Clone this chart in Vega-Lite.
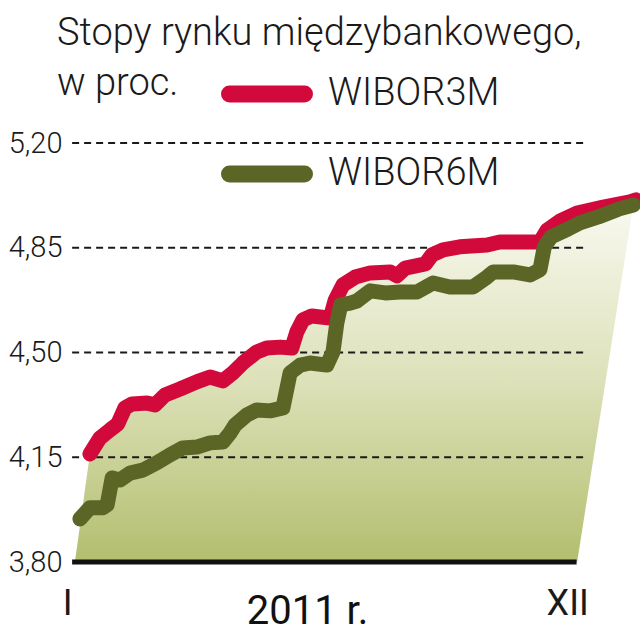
{
  "$schema": "https://vega.github.io/schema/vega-lite/v6.json",
  "autosize": "none",
  "width": 574,
  "height": 419,
  "padding": {"left": 66, "top": 143, "right": 0, "bottom": 78},
  "background": "white",
  "config": {"view": {"stroke": null}, "font": "Roboto"},
  "title": {
    "text": ["Stopy rynku międzybankowego,", "w proc."],
    "anchor": "start",
    "orient": "top",
    "baseline": "top",
    "fontSize": 38,
    "fontWeight": 300,
    "font": "Roboto",
    "color": "#1a1a1a",
    "lineHeight": 50,
    "dx": -9,
    "dy": 55,
    "offset": 0,
    "frame": "group"
  },
  "datasets": {
    "wibor": [
      {"t": 1.8, "stawka": 4.161, "seria": "WIBOR3M"},
      {"t": 3.6, "stawka": 4.214, "seria": "WIBOR3M"},
      {"t": 5.4, "stawka": 4.241, "seria": "WIBOR3M"},
      {"t": 6.8, "stawka": 4.261, "seria": "WIBOR3M"},
      {"t": 8.1, "stawka": 4.315, "seria": "WIBOR3M"},
      {"t": 9.4, "stawka": 4.328, "seria": "WIBOR3M"},
      {"t": 12.1, "stawka": 4.331, "seria": "WIBOR3M"},
      {"t": 13.5, "stawka": 4.325, "seria": "WIBOR3M"},
      {"t": 15.3, "stawka": 4.358, "seria": "WIBOR3M"},
      {"t": 18.0, "stawka": 4.378, "seria": "WIBOR3M"},
      {"t": 21.0, "stawka": 4.402, "seria": "WIBOR3M"},
      {"t": 23.4, "stawka": 4.418, "seria": "WIBOR3M"},
      {"t": 25.7, "stawka": 4.405, "seria": "WIBOR3M"},
      {"t": 27.5, "stawka": 4.432, "seria": "WIBOR3M"},
      {"t": 29.3, "stawka": 4.465, "seria": "WIBOR3M"},
      {"t": 31.8, "stawka": 4.502, "seria": "WIBOR3M"},
      {"t": 33.6, "stawka": 4.515, "seria": "WIBOR3M"},
      {"t": 36.0, "stawka": 4.518, "seria": "WIBOR3M"},
      {"t": 38.1, "stawka": 4.515, "seria": "WIBOR3M"},
      {"t": 39.0, "stawka": 4.569, "seria": "WIBOR3M"},
      {"t": 40.1, "stawka": 4.609, "seria": "WIBOR3M"},
      {"t": 41.7, "stawka": 4.622, "seria": "WIBOR3M"},
      {"t": 45.0, "stawka": 4.615, "seria": "WIBOR3M"},
      {"t": 45.9, "stawka": 4.675, "seria": "WIBOR3M"},
      {"t": 47.3, "stawka": 4.726, "seria": "WIBOR3M"},
      {"t": 49.5, "stawka": 4.752, "seria": "WIBOR3M"},
      {"t": 52.2, "stawka": 4.766, "seria": "WIBOR3M"},
      {"t": 55.8, "stawka": 4.769, "seria": "WIBOR3M"},
      {"t": 57.0, "stawka": 4.756, "seria": "WIBOR3M"},
      {"t": 58.5, "stawka": 4.782, "seria": "WIBOR3M"},
      {"t": 62.1, "stawka": 4.796, "seria": "WIBOR3M"},
      {"t": 63.3, "stawka": 4.826, "seria": "WIBOR3M"},
      {"t": 65.3, "stawka": 4.843, "seria": "WIBOR3M"},
      {"t": 68.3, "stawka": 4.853, "seria": "WIBOR3M"},
      {"t": 73.2, "stawka": 4.859, "seria": "WIBOR3M"},
      {"t": 75.5, "stawka": 4.869, "seria": "WIBOR3M"},
      {"t": 82.7, "stawka": 4.869, "seria": "WIBOR3M"},
      {"t": 84.0, "stawka": 4.909, "seria": "WIBOR3M"},
      {"t": 86.3, "stawka": 4.939, "seria": "WIBOR3M"},
      {"t": 89.4, "stawka": 4.966, "seria": "WIBOR3M"},
      {"t": 94.1, "stawka": 4.986, "seria": "WIBOR3M"},
      {"t": 98.9, "stawka": 5.003, "seria": "WIBOR3M"},
      {"t": 100.0, "stawka": 5.010, "seria": "WIBOR3M"},
      {"t": 0.0, "stawka": 3.944, "seria": "WIBOR6M"},
      {"t": 1.8, "stawka": 3.981, "seria": "WIBOR6M"},
      {"t": 4.1, "stawka": 3.981, "seria": "WIBOR6M"},
      {"t": 4.9, "stawka": 3.991, "seria": "WIBOR6M"},
      {"t": 5.8, "stawka": 4.081, "seria": "WIBOR6M"},
      {"t": 7.2, "stawka": 4.074, "seria": "WIBOR6M"},
      {"t": 9.0, "stawka": 4.097, "seria": "WIBOR6M"},
      {"t": 11.3, "stawka": 4.107, "seria": "WIBOR6M"},
      {"t": 13.8, "stawka": 4.131, "seria": "WIBOR6M"},
      {"t": 16.2, "stawka": 4.158, "seria": "WIBOR6M"},
      {"t": 18.5, "stawka": 4.181, "seria": "WIBOR6M"},
      {"t": 21.0, "stawka": 4.184, "seria": "WIBOR6M"},
      {"t": 23.4, "stawka": 4.198, "seria": "WIBOR6M"},
      {"t": 25.7, "stawka": 4.201, "seria": "WIBOR6M"},
      {"t": 27.0, "stawka": 4.231, "seria": "WIBOR6M"},
      {"t": 27.9, "stawka": 4.258, "seria": "WIBOR6M"},
      {"t": 30.0, "stawka": 4.291, "seria": "WIBOR6M"},
      {"t": 31.8, "stawka": 4.308, "seria": "WIBOR6M"},
      {"t": 34.2, "stawka": 4.305, "seria": "WIBOR6M"},
      {"t": 36.5, "stawka": 4.315, "seria": "WIBOR6M"},
      {"t": 37.8, "stawka": 4.432, "seria": "WIBOR6M"},
      {"t": 39.6, "stawka": 4.458, "seria": "WIBOR6M"},
      {"t": 41.4, "stawka": 4.465, "seria": "WIBOR6M"},
      {"t": 44.4, "stawka": 4.458, "seria": "WIBOR6M"},
      {"t": 45.5, "stawka": 4.502, "seria": "WIBOR6M"},
      {"t": 46.2, "stawka": 4.599, "seria": "WIBOR6M"},
      {"t": 46.9, "stawka": 4.659, "seria": "WIBOR6M"},
      {"t": 48.6, "stawka": 4.665, "seria": "WIBOR6M"},
      {"t": 49.8, "stawka": 4.672, "seria": "WIBOR6M"},
      {"t": 52.2, "stawka": 4.706, "seria": "WIBOR6M"},
      {"t": 54.9, "stawka": 4.699, "seria": "WIBOR6M"},
      {"t": 57.6, "stawka": 4.702, "seria": "WIBOR6M"},
      {"t": 60.6, "stawka": 4.702, "seria": "WIBOR6M"},
      {"t": 63.5, "stawka": 4.732, "seria": "WIBOR6M"},
      {"t": 66.5, "stawka": 4.719, "seria": "WIBOR6M"},
      {"t": 70.7, "stawka": 4.719, "seria": "WIBOR6M"},
      {"t": 73.2, "stawka": 4.752, "seria": "WIBOR6M"},
      {"t": 74.3, "stawka": 4.769, "seria": "WIBOR6M"},
      {"t": 77.9, "stawka": 4.769, "seria": "WIBOR6M"},
      {"t": 80.9, "stawka": 4.759, "seria": "WIBOR6M"},
      {"t": 82.7, "stawka": 4.776, "seria": "WIBOR6M"},
      {"t": 83.5, "stawka": 4.853, "seria": "WIBOR6M"},
      {"t": 84.7, "stawka": 4.886, "seria": "WIBOR6M"},
      {"t": 87.8, "stawka": 4.913, "seria": "WIBOR6M"},
      {"t": 89.9, "stawka": 4.933, "seria": "WIBOR6M"},
      {"t": 93.2, "stawka": 4.953, "seria": "WIBOR6M"},
      {"t": 96.8, "stawka": 4.979, "seria": "WIBOR6M"},
      {"t": 99.5, "stawka": 4.993, "seria": "WIBOR6M"}
    ],
    "obszar": [
      {"t": -0.9, "gora": 3.8, "dol": 3.8},
      {"t": 1.8, "gora": 4.161, "dol": 3.8},
      {"t": 3.6, "gora": 4.214, "dol": 3.8},
      {"t": 5.4, "gora": 4.241, "dol": 3.8},
      {"t": 6.8, "gora": 4.261, "dol": 3.8},
      {"t": 8.1, "gora": 4.315, "dol": 3.8},
      {"t": 9.4, "gora": 4.328, "dol": 3.8},
      {"t": 12.1, "gora": 4.331, "dol": 3.8},
      {"t": 13.5, "gora": 4.325, "dol": 3.8},
      {"t": 15.3, "gora": 4.358, "dol": 3.8},
      {"t": 18.0, "gora": 4.378, "dol": 3.8},
      {"t": 21.0, "gora": 4.402, "dol": 3.8},
      {"t": 23.4, "gora": 4.418, "dol": 3.8},
      {"t": 25.7, "gora": 4.405, "dol": 3.8},
      {"t": 27.5, "gora": 4.432, "dol": 3.8},
      {"t": 29.3, "gora": 4.465, "dol": 3.8},
      {"t": 31.8, "gora": 4.502, "dol": 3.8},
      {"t": 33.6, "gora": 4.515, "dol": 3.8},
      {"t": 36.0, "gora": 4.518, "dol": 3.8},
      {"t": 38.1, "gora": 4.515, "dol": 3.8},
      {"t": 39.0, "gora": 4.569, "dol": 3.8},
      {"t": 40.1, "gora": 4.609, "dol": 3.8},
      {"t": 41.7, "gora": 4.622, "dol": 3.8},
      {"t": 45.0, "gora": 4.615, "dol": 3.8},
      {"t": 45.9, "gora": 4.675, "dol": 3.8},
      {"t": 47.3, "gora": 4.726, "dol": 3.8},
      {"t": 49.5, "gora": 4.752, "dol": 3.8},
      {"t": 52.2, "gora": 4.766, "dol": 3.8},
      {"t": 55.8, "gora": 4.769, "dol": 3.8},
      {"t": 57.0, "gora": 4.756, "dol": 3.8},
      {"t": 58.5, "gora": 4.782, "dol": 3.8},
      {"t": 62.1, "gora": 4.796, "dol": 3.8},
      {"t": 63.3, "gora": 4.826, "dol": 3.8},
      {"t": 65.3, "gora": 4.843, "dol": 3.8},
      {"t": 68.3, "gora": 4.853, "dol": 3.8},
      {"t": 73.2, "gora": 4.859, "dol": 3.8},
      {"t": 75.5, "gora": 4.869, "dol": 3.8},
      {"t": 82.7, "gora": 4.869, "dol": 3.8},
      {"t": 84.0, "gora": 4.909, "dol": 3.8},
      {"t": 86.3, "gora": 4.939, "dol": 3.8},
      {"t": 89.4, "gora": 4.966, "dol": 3.8},
      {"t": 99.6, "gora": 5.005, "dol": 5.005}
    ],
    "siatka": [
      {"poziom": 4.15},
      {"poziom": 4.5},
      {"poziom": 4.85},
      {"poziom": 5.2}
    ]
  },
  "layer": [
    {
      "data": {"name": "obszar"},
      "mark": {
        "type": "area",
        "color": {
          "gradient": "linear",
          "x1": 0, "y1": 0, "x2": 0, "y2": 1,
          "stops": [
            {"offset": 0, "color": "#f9f9f0"},
            {"offset": 0.5, "color": "#dde1b9"},
            {"offset": 1, "color": "#b3be6e"}
          ]
        }
      },
      "encoding": {
        "x": {
          "field": "t", "type": "quantitative",
          "scale": {"domain": [-2.5, 100.7], "nice": false, "zero": false},
          "axis": {
            "values": [-2.3, 87.6],
            "labelExpr": "datum.value < 0 ? 'I' : 'XII'",
            "labelFontSize": 36,
            "labelFont": "Roboto",
            "labelFontWeight": 400,
            "labelColor": "#1a1a1a",
            "labelFlush": false,
            "labelOverlap": false,
            "labelBound": false,
            "labelPadding": 24,
            "ticks": false,
            "tickSize": 0,
            "domain": false,
            "grid": false,
            "title": "2011 r.",
            "titleFontSize": 40,
            "titleFontWeight": 400,
            "titleFont": "Roboto",
            "titleColor": "#111111",
            "titleX": 241,
            "titleY": 61,
            "titleAlign": "center",
            "titleBaseline": "alphabetic"
          }
        },
        "y": {
          "field": "gora", "type": "quantitative",
          "scale": {"domain": [3.8, 5.2], "nice": false, "zero": false},
          "axis": {
            "values": [3.8, 4.15, 4.5, 4.85, 5.2],
            "labelExpr": "replace(format(datum.value, '.2f'), '.', ',')",
            "labelFontSize": 29,
            "labelFont": "Roboto",
            "labelFontWeight": 300,
            "labelColor": "#1a1a1a",
            "labelPadding": 4,
            "labelBaseline": "middle",
            "labelFlush": false,
            "labelOverlap": false,
            "ticks": false,
            "tickSize": 0,
            "domain": false,
            "grid": false,
            "title": null
          }
        },
        "y2": {"field": "dol"}
      }
    },
    {
      "data": {"name": "siatka"},
      "mark": {"type": "rule", "color": "#1a1a1a", "strokeWidth": 2, "strokeDash": [7, 5]},
      "encoding": {
        "y": {"field": "poziom", "type": "quantitative"},
        "x": {"datum": -1.4},
        "x2": {"datum": 90.6}
      }
    },
    {
      "data": {"values": [{"poziom": 3.8}]},
      "mark": {"type": "rule", "color": "#111111", "strokeWidth": 5},
      "encoding": {
        "y": {"field": "poziom", "type": "quantitative"},
        "x": {"datum": -1.4},
        "x2": {"datum": 89.3}
      }
    },
    {
      "data": {"name": "wibor"},
      "mark": {"type": "line", "strokeWidth": 15, "strokeCap": "round", "strokeJoin": "round"},
      "encoding": {
        "x": {"field": "t", "type": "quantitative"},
        "y": {"field": "stawka", "type": "quantitative"},
        "color": {
          "field": "seria", "type": "nominal",
          "scale": {"domain": ["WIBOR3M", "WIBOR6M"], "range": ["#d20a3c", "#5b6526"]},
          "legend": {
            "orient": "none",
            "legendX": 155,
            "legendY": -95,
            "title": null,
            "padding": 0,
            "symbolType": "stroke",
            "symbolSize": 5625,
            "symbolStrokeWidth": 17,
            "labelFontSize": 38,
            "labelFont": "Roboto",
            "labelFontWeight": 300,
            "labelColor": "#1a1a1a",
            "labelOffset": 15,
            "labelLimit": 400,
            "rowPadding": -10,
            "encode": {"symbols": {"update": {"strokeCap": {"value": "round"}}}}
          }
        },
        "order": {"field": "t", "type": "quantitative"}
      }
    }
  ]
}
